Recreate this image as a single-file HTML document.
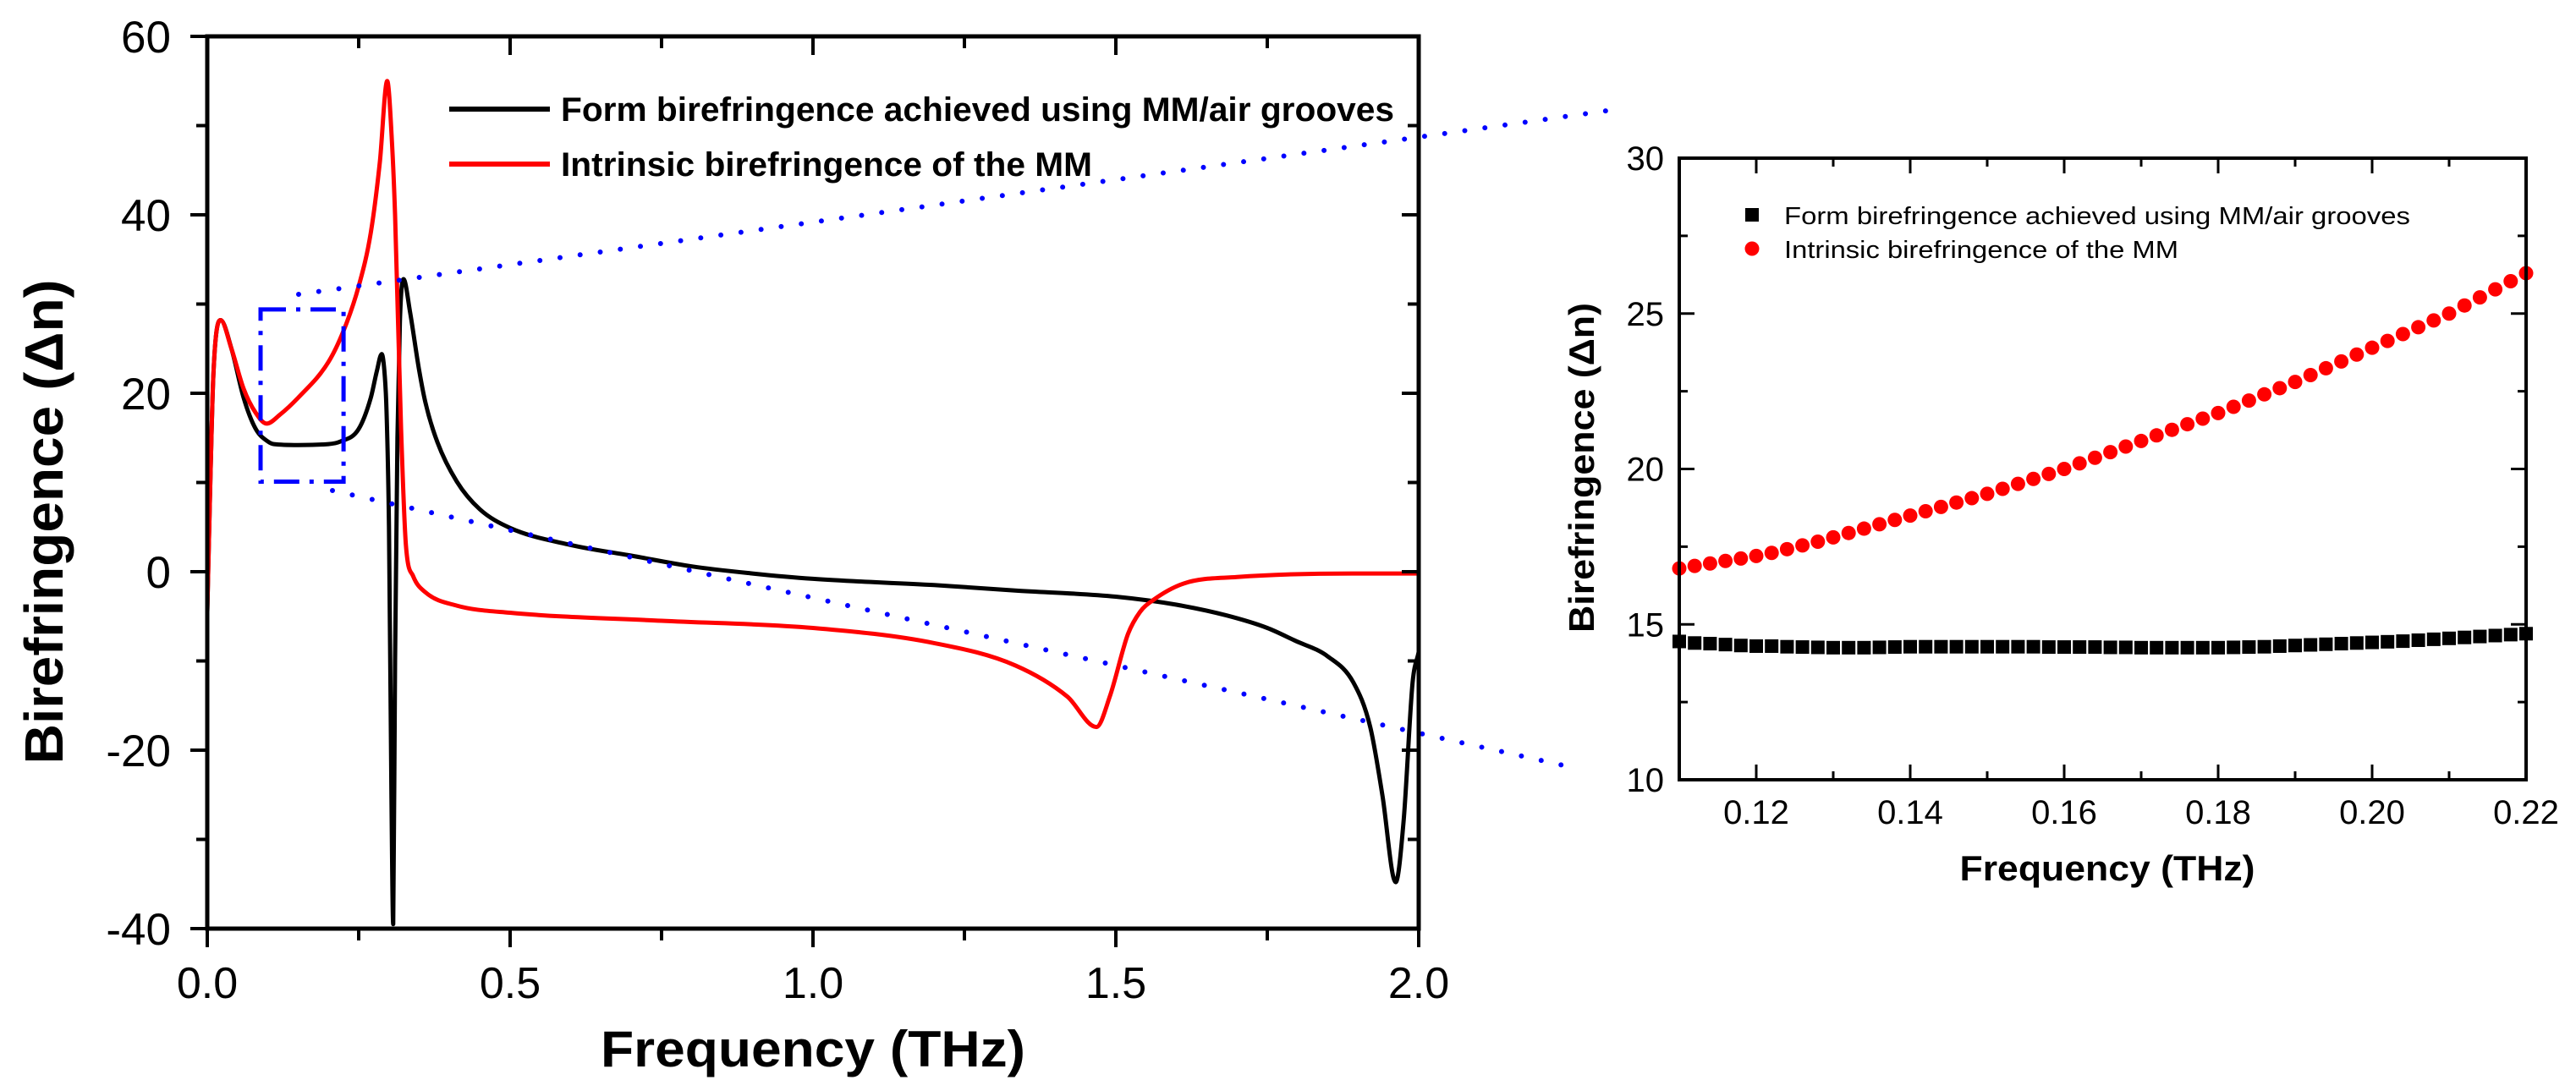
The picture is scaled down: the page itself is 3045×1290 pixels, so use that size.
<!DOCTYPE html>
<html><head><meta charset="utf-8"><style>
html,body{margin:0;padding:0;background:#fff;}
svg{display:block;font-family:"Liberation Sans",Arial,sans-serif;}
</style></head><body>
<svg id="fig" width="3045" height="1290" viewBox="0 0 3045 1290" xmlns="http://www.w3.org/2000/svg">
<rect width="3045" height="1290" fill="#fff"/>
<g id="main"></g>
<g id="inset"></g>
</svg>
<script>
// ---------- main chart data ----------
const formFreq = [0,0.005,0.01,0.022,0.04,0.06,0.08,0.1,0.11,0.15,0.2,0.22,0.25,0.27,0.28,0.288,0.293,0.296,0.3,0.304,0.307,0.31,0.314,0.318,0.324,0.335,0.35,0.36,0.38,0.412,0.45,0.5,0.6,0.7,0.8,0.9,1.0,1.2,1.334,1.5,1.6,1.683,1.75,1.795,1.85,1.892,1.92,1.94,1.962,1.975,1.99,2.0];
const formVals = [-4.5,10,22,28.2,25,19.5,16,14.6,14.3,14.2,14.3,14.6,16,19.5,22.5,24.4,22,18,5,-25,-39.5,-10,15,28,32.8,29,22.5,19,14.5,10.1,7,4.9,3,1.8,0.6,-0.2,-0.8,-1.5,-2.1,-2.8,-3.7,-4.9,-6.3,-7.7,-9.5,-12.4,-17.4,-25,-34.8,-28,-12.4,-9];
const intrFreq = [0,0.005,0.01,0.022,0.04,0.06,0.08,0.098,0.12,0.15,0.2,0.225,0.25,0.27,0.285,0.297,0.305,0.31,0.32,0.328,0.34,0.36,0.412,0.5,0.75,1.0,1.2,1.334,1.42,1.468,1.49,1.52,1.54,1.561,1.613,1.7,1.89,2.0];
const intrVals = [-4.5,10,22,28.2,25,20.5,17.8,16.6,17.6,19.5,23.5,27,32,38,46,55,48,40,16,3,-0.5,-2.3,-3.8,-4.6,-5.5,-6.3,-8,-10.5,-14,-17.4,-14,-7,-4.5,-3.2,-1.3,-0.6,-0.2,-0.2];
const mainXTicks = [0,0.5,1.0,1.5,2.0];
const mainXLabels = ["0.0","0.5","1.0","1.5","2.0"];
const mainYTicks = [-40,-20,0,20,40,60];
const mainYLabels = ["-40","-20","0","20","40","60"];

// ---------- inset data ----------
const insetFreq = [0.110,0.112,0.114,0.116,0.118,0.120,0.122,0.124,0.126,0.128,0.130,0.132,0.134,0.136,0.138,0.140,0.142,0.144,0.146,0.148,0.150,0.152,0.154,0.156,0.158,0.160,0.162,0.164,0.166,0.168,0.170,0.172,0.174,0.176,0.178,0.180,0.182,0.184,0.186,0.188,0.190,0.192,0.194,0.196,0.198,0.200,0.202,0.204,0.206,0.208,0.210,0.212,0.214,0.216,0.218,0.220];
const insetIntr = [16.8,16.88,16.96,17.04,17.12,17.2,17.3,17.42,17.54,17.66,17.8,17.94,18.08,18.22,18.36,18.5,18.64,18.78,18.92,19.06,19.2,19.36,19.52,19.68,19.84,20.0,20.18,20.36,20.54,20.72,20.9,21.08,21.26,21.44,21.62,21.8,22.0,22.2,22.4,22.6,22.8,23.02,23.24,23.46,23.68,23.9,24.12,24.34,24.56,24.78,25.0,25.26,25.52,25.78,26.04,26.3];
const insetForm = [14.45,14.4,14.38,14.35,14.32,14.3,14.3,14.28,14.27,14.26,14.25,14.25,14.25,14.26,14.27,14.28,14.28,14.28,14.28,14.28,14.28,14.28,14.28,14.28,14.27,14.27,14.27,14.27,14.26,14.26,14.25,14.25,14.25,14.25,14.25,14.25,14.26,14.27,14.28,14.3,14.32,14.34,14.36,14.38,14.4,14.42,14.44,14.46,14.49,14.52,14.55,14.58,14.61,14.64,14.67,14.7];
const insetXTicks = [0.12,0.14,0.16,0.18,0.20,0.22];
const insetXLabels = ["0.12","0.14","0.16","0.18","0.20","0.22"];
const insetYTicks = [10,15,20,25,30];
const insetYLabels = ["10","15","20","25","30"];

const NS="http://www.w3.org/2000/svg";
function mk(parent,tag,attrs){const e=document.createElementNS(NS,tag);for(const k in attrs)e.setAttribute(k,attrs[k]);parent.appendChild(e);return e;}

// ---------- main axes ----------
const M={l:245,r:1677,t:43,b:1098,x0:0,x1:2,y0:-40,y1:60};
const mx=f=>M.l+(f-M.x0)/(M.x1-M.x0)*(M.r-M.l);
const my=v=>M.b-(v-M.y0)/(M.y1-M.y0)*(M.b-M.t);
const gm=document.getElementById('main');

// monotone cubic (Fritsch-Carlson) path through pixel points
function monoPath(X,Y){
  const n=X.length,d=[],m=[];
  for(let i=0;i<n-1;i++)d.push((Y[i+1]-Y[i])/(X[i+1]-X[i]));
  m[0]=d[0];m[n-1]=d[n-2];
  for(let i=1;i<n-1;i++){m[i]=(d[i-1]*d[i]<=0)?0:(d[i-1]+d[i])/2;}
  for(let i=0;i<n-1;i++){
    if(d[i]===0){m[i]=0;m[i+1]=0;continue;}
    const a=m[i]/d[i],b=m[i+1]/d[i],s=a*a+b*b;
    if(s>9){const t=3/Math.sqrt(s);m[i]=t*a*d[i];m[i+1]=t*b*d[i];}
  }
  let p="M"+X[0].toFixed(1)+","+Y[0].toFixed(1);
  for(let i=0;i<n-1;i++){
    const h=X[i+1]-X[i];
    p+="C"+(X[i]+h/3).toFixed(1)+","+(Y[i]+m[i]*h/3).toFixed(1)+" "+(X[i+1]-h/3).toFixed(1)+","+(Y[i+1]-m[i+1]*h/3).toFixed(1)+" "+X[i+1].toFixed(1)+","+Y[i+1].toFixed(1);
  }
  return p;
}
function curve(xs,ys,color,name){
  const d=monoPath(xs.map(mx),ys.map(my));
  const p=mk(gm,'path',{d:d,fill:'none',stroke:color,'stroke-width':5,'stroke-linejoin':'round'});
  
  
}
curve(formFreq,formVals,'#000','form-birefringence-line');
curve(intrFreq,intrVals,'#ff0000','intrinsic-birefringence-line');

// zoom box & connector lines
const zb=mk(gm,'rect',{x:mx(0.088),y:my(29.4),width:mx(0.225)-mx(0.088),height:my(10.1)-my(29.4),fill:'none',stroke:'#0000ff','stroke-width':5,'stroke-dasharray':'30 12 5 12'});


const c1=mk(gm,'line',{x1:353,y1:348,x2:1913,y2:129,stroke:'#0000ff','stroke-width':6,'stroke-linecap':'round','stroke-dasharray':'0 24'});


const c2=mk(gm,'line',{x1:393,y1:580,x2:1857,y2:907,stroke:'#0000ff','stroke-width':6,'stroke-linecap':'round','stroke-dasharray':'0 24'});



// frame
const mf=mk(gm,'rect',{x:M.l,y:M.t,width:M.r-M.l,height:M.b-M.t,fill:'none',stroke:'#000','stroke-width':5});


for(let f=0;f<=2.0001;f+=0.25){
  const major=Math.abs(f*2-Math.round(f*2))<1e-6;
  const x=mx(f);
  mk(gm,'line',{x1:x,y1:M.b,x2:x,y2:M.b+(major?22:14),stroke:'#000','stroke-width':4});
  mk(gm,'line',{x1:x,y1:M.t,x2:x,y2:M.t+(major?22:14),stroke:'#000','stroke-width':4});
}
for(let v=-40;v<=60;v+=10){
  const major=v%20===0;const y=my(v);
  mk(gm,'line',{x1:M.l,y1:y,x2:M.l-(major?20:13),y2:y,stroke:'#000','stroke-width':4});
  mk(gm,'line',{x1:M.r,y1:y,x2:M.r-(major?20:13),y2:y,stroke:'#000','stroke-width':4});
}
mainXTicks.forEach((f,i)=>{
  const t=mk(gm,'text',{x:mx(f),y:1180,'font-size':52,'text-anchor':'middle',fill:'#000'});
  t.textContent=mainXLabels[i];
  
  
});
mainYTicks.forEach((v,i)=>{
  const t=mk(gm,'text',{x:202,y:my(v)+19,'font-size':53,'text-anchor':'end',fill:'#000'});
  t.textContent=mainYLabels[i];
  
  
});
const xt=mk(gm,'text',{x:961,y:1261,'font-size':60,'font-weight':'bold','text-anchor':'middle',textLength:502,lengthAdjust:'spacingAndGlyphs'});
xt.textContent="Frequency (THz)";


const yt=mk(gm,'text',{x:0,y:0,'font-size':64,'font-weight':'bold','text-anchor':'middle',textLength:573,lengthAdjust:'spacingAndGlyphs',transform:'translate(74,617) rotate(-90)'});
yt.textContent="Birefringence (\u0394n)";


const lg=mk(gm,'g',{});


mk(lg,'line',{x1:531,y1:129,x2:650,y2:129,stroke:'#000','stroke-width':6});
mk(lg,'line',{x1:531,y1:194,x2:650,y2:194,stroke:'#ff0000','stroke-width':6});
const l1=mk(lg,'text',{x:663,y:143,'font-size':40,'font-weight':'bold',textLength:985,lengthAdjust:'spacingAndGlyphs'});
l1.textContent="Form birefringence achieved using MM/air grooves";


const l2=mk(lg,'text',{x:663,y:208,'font-size':40,'font-weight':'bold',textLength:628,lengthAdjust:'spacingAndGlyphs'});
l2.textContent="Intrinsic birefringence of the MM";



// ---------- inset ----------
const I={l:1985,r:2986,t:187,b:922,x0:0.11,x1:0.22,y0:10,y1:30};
const ix=f=>I.l+(f-I.x0)/(I.x1-I.x0)*(I.r-I.l);
const iy=v=>I.b-(v-I.y0)/(I.y1-I.y0)*(I.b-I.t);
const gi=document.getElementById('inset');
insetFreq.forEach((f,i)=>{
  const s=mk(gi,'rect',{x:ix(f)-8,y:iy(insetForm[i])-8,width:16,height:16,fill:'#000'});
  
  
});
insetFreq.forEach((f,i)=>{
  const c=mk(gi,'circle',{cx:ix(f),cy:iy(insetIntr[i]),r:8.5,fill:'#ff0000'});
  
  
});
const inf=mk(gi,'rect',{x:I.l,y:I.t,width:I.r-I.l,height:I.b-I.t,fill:'none',stroke:'#000','stroke-width':4});


for(let k=0;k<=11;k++){
  const f=0.11+k*0.01;const major=k%2===1;const x=ix(f);
  mk(gi,'line',{x1:x,y1:I.b,x2:x,y2:I.b-(major?18:10),stroke:'#000','stroke-width':3});
  mk(gi,'line',{x1:x,y1:I.t,x2:x,y2:I.t+(major?18:10),stroke:'#000','stroke-width':3});
}
for(let v=10;v<=30;v+=2.5){
  const major=v%5===0;const y=iy(v);
  mk(gi,'line',{x1:I.l,y1:y,x2:I.l+(major?18:10),y2:y,stroke:'#000','stroke-width':3});
  mk(gi,'line',{x1:I.r,y1:y,x2:I.r-(major?18:10),y2:y,stroke:'#000','stroke-width':3});
}
insetXTicks.forEach((f,i)=>{
  const t=mk(gi,'text',{x:ix(f),y:974,'font-size':40,'text-anchor':'middle',fill:'#000'});
  t.textContent=insetXLabels[i];
  
  
});
insetYTicks.forEach((v,i)=>{
  const t=mk(gi,'text',{x:1967,y:iy(v)+14,'font-size':40,'text-anchor':'end',fill:'#000'});
  t.textContent=insetYLabels[i];
  
  
});
const ixt=mk(gi,'text',{x:2491,y:1041,'font-size':42,'font-weight':'bold','text-anchor':'middle',textLength:349,lengthAdjust:'spacingAndGlyphs'});
ixt.textContent="Frequency (THz)";


const iyt=mk(gi,'text',{x:0,y:0,'font-size':42,'font-weight':'bold','text-anchor':'middle',textLength:390,lengthAdjust:'spacingAndGlyphs',transform:'translate(1884,553) rotate(-90)'});
iyt.textContent="Birefringence (\u0394n)";


const il=mk(gi,'g',{});


mk(il,'rect',{x:2063,y:246,width:16,height:16,fill:'#000'});
mk(il,'circle',{cx:2071,cy:294,r:8.5,fill:'#ff0000'});
const il1=mk(il,'text',{x:2109,y:265,'font-size':29,textLength:740,lengthAdjust:'spacingAndGlyphs'});
il1.textContent="Form birefringence achieved using MM/air grooves";


const il2=mk(il,'text',{x:2109,y:305,'font-size':29,textLength:466,lengthAdjust:'spacingAndGlyphs'});
il2.textContent="Intrinsic birefringence of the MM";


</script>
</body></html>
